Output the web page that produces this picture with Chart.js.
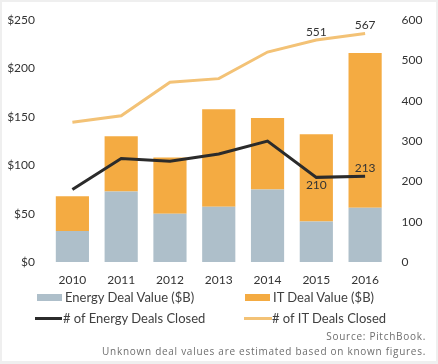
<!DOCTYPE html>
<html>
<head>
<meta charset="utf-8">
<script src="https://cdn.jsdelivr.net/npm/chart.js@4.4.1/dist/chart.umd.min.js"></script>
<style>
  html, body { margin: 0; padding: 0; }
  body { width: 438px; height: 364px; background: #efefef; position: relative; overflow: hidden; font-family: Lato, "Open Sans", sans-serif; }
  #panel { position: absolute; left: 2px; top: 2px; width: 434px; height: 359px; background: #ffffff; }
  #wrap { position: absolute; left: 0; top: 0; width: 438px; height: 291px; }
  .leg { position: absolute; font-size: 13px; color: #404040; white-space: nowrap; line-height: 16px; }
  .sw { position: absolute; }
  .src { position: absolute; right: 12px; font-family: "Open Sans", sans-serif; font-size: 10px; color: #6e6e6e; letter-spacing: 0.72px; white-space: nowrap; }
</style>
</head>
<body>
<div id="panel"></div>
<div id="wrap"><canvas id="c" width="438" height="291"></canvas></div>

<div class="sw" style="left:37px; top:294px; width:25px; height:7px; background:#aebfca;"></div>
<div class="leg" style="left:65px; top:289px;">Energy Deal Value ($B)</div>
<div class="sw" style="left:245px; top:294px; width:25px; height:7px; background:#f4ab42;"></div>
<div class="leg" style="left:273px; top:289px;">IT Deal Value ($B)</div>
<div class="sw" style="left:35px; top:317px; width:27px; height:3px; background:#2b2b2b;"></div>
<div class="leg" style="left:63px; top:310px;"># of Energy Deals Closed</div>
<div class="sw" style="left:244px; top:317px; width:28px; height:3px; background:#f3c276;"></div>
<div class="leg" style="left:272px; top:310px;"># of IT Deals Closed</div>

<div class="src" style="top:329px;">Source: PitchBook.</div>
<div class="src" style="top:344px;">Unknown deal values are estimated based on known figures.</div>

<script>
const years = ['2010', '2011', '2012', '2013', '2014', '2015', '2016'];
const energyValue = [32, 73, 50, 57, 75, 42, 56];
const itValue = [36, 57, 58, 101, 74, 90, 160];
const energyDeals = [180, 257, 250, 268, 300, 210, 213];
const itDeals = [347, 363, 446, 455, 521, 551, 567];
const leftTicks = [0, 50, 100, 150, 200, 250];
const rightTicks = [0, 100, 200, 300, 400, 500, 600];

// which points carry a value label
const pointLabels = [
  { series: 'itDeals', index: 5, pos: 'above' },
  { series: 'itDeals', index: 6, pos: 'above' },
  { series: 'energyDeals', index: 5, pos: 'below' },
  { series: 'energyDeals', index: 6, pos: 'above' }
];

const labelPlugin = {
  id: 'pointLabels',
  afterDatasetsDraw(chart) {
    const ctx = chart.ctx;
    ctx.save();
    ctx.font = '12px Lato, "Open Sans", sans-serif';
    ctx.fillStyle = '#333333';
    ctx.textAlign = 'center';
    ctx.textBaseline = 'middle';
    pointLabels.forEach(l => {
      const dsIndex = chart.data.datasets.findIndex(d => d.key === l.series);
      const ds = chart.data.datasets[dsIndex];
      const el = chart.getDatasetMeta(dsIndex).data[l.index];
      const y = l.pos === 'above' ? el.y - 8 : el.y + 8;
      ctx.fillText(String(ds.data[l.index]), el.x, y);
    });
    ctx.restore();
  }
};

const tickFont = { family: 'Lato, "Open Sans", sans-serif', size: 12 };

new Chart(document.getElementById('c'), {
  type: 'bar',
  data: {
    labels: years,
    datasets: [
      { key: 'energyDeals', type: 'line', data: energyDeals, yAxisID: 'y1', borderColor: '#2b2b2b', borderWidth: 3, pointRadius: 0, tension: 0, order: 0, fill: false },
      { key: 'itDeals', type: 'line', data: itDeals, yAxisID: 'y1', borderColor: '#f3c276', borderWidth: 3, pointRadius: 0, tension: 0, order: 0, fill: false },
      { key: 'energyValue', data: energyValue, yAxisID: 'y', backgroundColor: '#aebfca', barPercentage: 0.68, categoryPercentage: 1, order: 1, stack: 's' },
      { key: 'itValue', data: itValue, yAxisID: 'y', backgroundColor: '#f4ab42', barPercentage: 0.68, categoryPercentage: 1, order: 1, stack: 's' }
    ]
  },
  options: {
    responsive: false,
    animation: false,
    layout: { padding: { top: 8, left: 0, right: 0, bottom: 0 } },
    plugins: { legend: { display: false }, tooltip: { enabled: false } },
    scales: {
      x: {
        stacked: true,
        grid: { display: false, drawTicks: false },
        border: { display: false },
        ticks: { font: tickFont, color: '#333333', padding: 11, maxRotation: 0 },
        afterFit(s) { s.height = 29; }
      },
      y: {
        stacked: true,
        position: 'left',
        min: 0, max: 250,
        afterBuildTicks(s) { s.ticks = leftTicks.map(v => ({ value: v })); },
        grid: { display: false, drawTicks: false },
        border: { display: false },
        ticks: { font: tickFont, color: '#333333', padding: 13, callback: v => '$' + v },
        afterFit(s) { s.width = 48; }
      },
      y1: {
        position: 'right',
        min: 0, max: 600,
        afterBuildTicks(s) { s.ticks = rightTicks.map(v => ({ value: v })); },
        grid: { display: false, drawTicks: false },
        border: { display: false },
        ticks: { font: tickFont, color: '#333333', padding: 12 },
        afterFit(s) { s.width = 48.5; }
      }
    }
  },
  plugins: [labelPlugin]
});
</script>
</body>
</html>
